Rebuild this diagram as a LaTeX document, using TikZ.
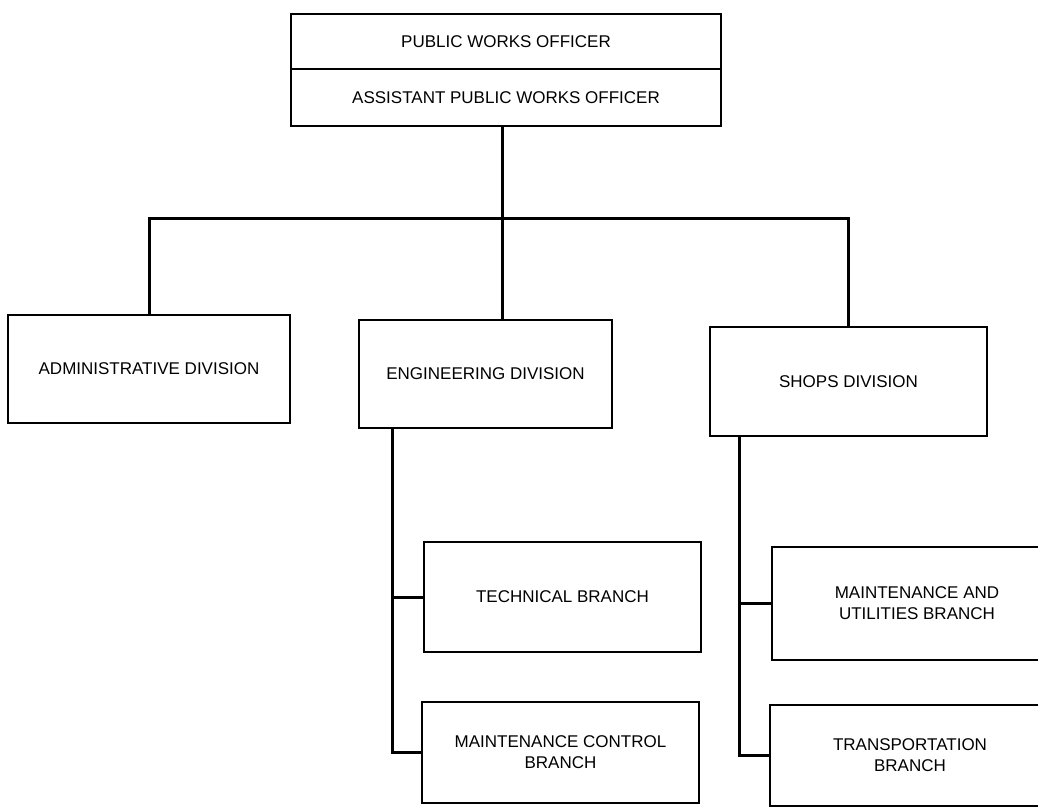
\documentclass[tikz,border=0pt]{standalone}
\usepackage{fontspec}
\setmainfont{Liberation Sans}
\begin{document}
\begin{tikzpicture}[x=1pt,y=-1pt,
  orgbox/.style={draw=black, line width=2.8pt, fill=white, align=center,
    inner sep=0pt, font=\fontsize{17}{21}\selectfont},
  link/.style={draw=black, line width=3pt}]
\useasboundingbox (0,0) rectangle (1038,808);
\clip (0,0) rectangle (1038,808);

% top office
\node[orgbox, minimum width=430pt, minimum height=55pt] (pwo) at (506,41.5) {PUBLIC WORKS OFFICER};
\node[orgbox, minimum width=430pt, minimum height=57pt] (apwo) at (506,97.5) {ASSISTANT PUBLIC WORKS OFFICER};

% divisions
\node[orgbox, minimum width=282pt, minimum height=108pt] (admin) at (149,369) {ADMINISTRATIVE DIVISION};
\node[orgbox, minimum width=253pt, minimum height=108pt] (eng) at (485.5,374) {ENGINEERING DIVISION};
\node[orgbox, minimum width=277pt, minimum height=109pt] (shops) at (848.5,381.5) {SHOPS DIVISION};

% branches
\node[orgbox, minimum width=277pt, minimum height=110pt] (tech) at (562.5,597) {TECHNICAL BRANCH};
\node[orgbox, minimum width=277pt, minimum height=101pt] (mcb) at (560.5,752.5) {MAINTENANCE CONTROL\\BRANCH};
\node[orgbox, minimum width=290pt, minimum height=113pt] (mu) at (917,603.5) {MAINTENANCE AND\\UTILITIES BRANCH};
\node[orgbox, minimum width=280pt, minimum height=101pt] (trans) at (910,755.5) {TRANSPORTATION\\BRANCH};

% junction points
\coordinate (j) at (502,218);
\coordinate (ev) at (392,0);
\coordinate (sv) at (739,0);

% connectors
\draw[link] (apwo.south -| j) -- (eng.north -| j);
\draw[link] (admin.north) |- (j) -| (shops.north);
\draw[link] (eng.south -| ev) |- (mcb.west);
\draw[link] (tech.west -| ev) -- (tech.west);
\draw[link] (shops.south -| sv) |- (trans.west);
\draw[link] (mu.west -| sv) -- (mu.west);
\end{tikzpicture}
\end{document}
